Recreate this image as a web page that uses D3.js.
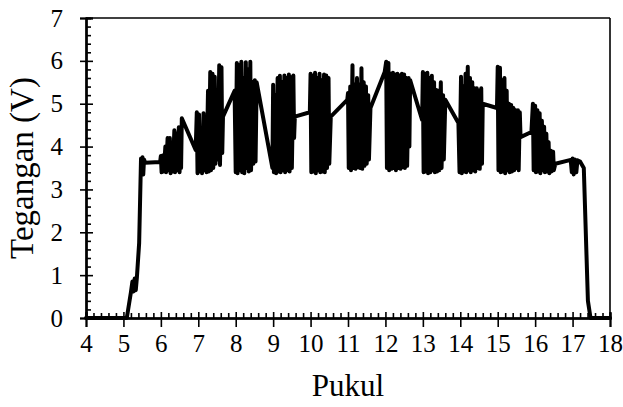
<!DOCTYPE html>
<html><head><meta charset="utf-8">
<script src="https://cdn.jsdelivr.net/npm/d3@7"></script>
<style>
body{margin:0;background:#fff;}
svg{display:block;}
</style></head>
<body>
<svg id="c" width="623" height="407"></svg>
<script>
// [pukul (hour), tegangan (V)] samples
const dawn = [[4.0,0],[5.09,0],[5.2,0.6],[5.24,0.85],[5.27,0.62],[5.3,0.92],[5.33,0.65],[5.36,0.95],[5.42,1.75],[5.47,3.72],[5.49,3.4],[5.51,3.75],[5.53,3.35],[5.55,3.7],[5.58,3.62],[5.98,3.64]];
const morning = [[6.0,3.78],[6.02,3.4],[6.06,3.8],[6.08,3.42],[6.12,4.0],[6.14,3.4],[6.18,4.2],[6.2,3.45],[6.24,4.2],[6.26,3.38],[6.3,4.1],[6.32,3.42],[6.36,4.38],[6.38,3.4],[6.42,4.3],[6.44,3.45],[6.48,4.45],[6.5,3.4],[6.53,4.42],[6.54,3.5],[6.56,4.66],[6.93,3.92],
 [6.96,4.8],[6.98,3.38],[7.02,4.75],[7.04,3.42],[7.08,4.3],[7.1,3.38],[7.14,4.78],[7.16,3.45],[7.2,4.4],[7.22,3.4],[7.26,5.3],[7.28,3.42],[7.32,5.74],[7.34,3.45],[7.38,5.7],[7.4,3.5],[7.44,5.63],[7.46,3.6],[7.5,5.2],[7.52,3.7],[7.56,5.9],[7.58,3.57],[7.62,5.85],[7.64,3.85],[7.66,4.7],[7.97,5.3],
 [8.0,3.4],[8.03,5.95],[8.05,3.38],[8.09,5.9],[8.11,3.45],[8.15,5.98],[8.17,3.4],[8.21,5.6],[8.23,3.38],[8.27,5.97],[8.29,3.5],[8.33,5.8],[8.35,3.42],[8.39,5.98],[8.41,3.45],[8.45,5.5],[8.47,3.6],[8.51,5.55],[8.53,3.65],[8.56,5.5],[8.98,3.5]];
const midday = [[9.0,5.44],[9.02,3.4],[9.06,5.2],[9.08,3.38],[9.12,5.6],[9.14,3.42],[9.18,5.65],[9.2,3.4],[9.24,5.5],[9.26,3.45],[9.3,5.66],[9.32,3.4],[9.36,5.6],[9.38,3.45],[9.42,5.68],[9.44,3.42],[9.48,5.62],[9.5,3.5],[9.54,5.66],[9.56,4.2],[9.58,4.7],[9.98,4.8],
 [10.0,5.7],[10.02,3.4],[10.06,5.65],[10.08,3.42],[10.12,5.72],[10.14,3.38],[10.18,5.6],[10.2,3.45],[10.24,5.7],[10.26,3.4],[10.3,5.55],[10.32,3.42],[10.36,5.68],[10.38,3.4],[10.42,5.66],[10.44,3.5],[10.48,5.6],[10.5,3.6],[10.54,4.7],[10.98,5.09],
 [11.0,5.25],[11.02,3.5],[11.06,5.4],[11.08,3.45],[11.12,5.9],[11.14,3.5],[11.18,5.44],[11.2,3.48],[11.24,5.6],[11.26,3.52],[11.3,5.45],[11.32,3.5],[11.36,5.83],[11.38,3.48],[11.42,5.5],[11.44,3.55],[11.48,5.4],[11.5,3.6],[11.54,5.2],[11.56,3.7],[11.6,4.9],[11.98,5.74],
 [12.02,5.98],[12.04,3.5],[12.08,5.95],[12.1,3.45],[12.14,5.7],[12.16,3.48],[12.2,5.72],[12.22,3.5],[12.26,5.68],[12.28,3.45],[12.32,5.7],[12.34,3.5],[12.38,5.66],[12.4,3.48],[12.44,5.7],[12.46,3.52],[12.5,5.68],[12.52,3.5],[12.56,5.6],[12.58,3.55],[12.62,5.6],[12.64,4.0],[12.66,5.55],[12.98,4.62]];
const afternoon = [[13.0,5.74],[13.02,3.4],[13.06,5.7],[13.08,3.42],[13.12,5.72],[13.14,3.38],[13.18,5.6],[13.2,3.4],[13.24,5.65],[13.26,3.45],[13.3,5.5],[13.32,3.4],[13.36,5.32],[13.38,3.42],[13.42,5.3],[13.44,3.45],[13.48,5.5],[13.5,3.5],[13.54,5.2],[13.56,3.7],[13.6,5.09],[13.95,4.55],
 [13.98,3.4],[14.02,5.63],[14.04,3.38],[14.08,5.4],[14.1,3.42],[14.14,5.7],[14.16,3.4],[14.2,5.86],[14.22,3.45],[14.26,5.6],[14.28,3.4],[14.32,5.5],[14.34,3.45],[14.38,5.36],[14.4,3.42],[14.44,5.36],[14.46,3.5],[14.5,5.3],[14.52,3.48],[14.56,5.36],[14.58,3.6],[14.6,5.0],[14.98,4.9],
 [15.0,5.86],[15.02,3.45],[15.06,5.84],[15.08,3.4],[15.12,5.55],[15.14,3.42],[15.18,5.6],[15.2,3.38],[15.24,5.3],[15.26,3.45],[15.3,5.0],[15.32,3.4],[15.36,4.97],[15.38,3.42],[15.42,4.9],[15.44,3.45],[15.48,4.85],[15.5,3.5],[15.54,4.85],[15.56,3.45],[15.59,4.8],[15.61,4.22],[15.9,4.34]];
const dusk = [[15.94,5.0],[15.96,3.45],[16.0,4.95],[16.02,3.4],[16.06,4.85],[16.08,3.42],[16.12,4.78],[16.14,3.38],[16.18,4.6],[16.2,3.45],[16.24,4.46],[16.26,3.4],[16.3,4.3],[16.32,3.42],[16.36,4.1],[16.38,3.38],[16.42,3.9],[16.44,3.42],[16.48,3.88],[16.5,3.45],[16.54,3.6],[16.95,3.69],
 [16.98,3.4],[17.0,3.72],[17.03,3.35],[17.06,3.7],[17.1,3.4],[17.13,3.68],[17.2,3.65],[17.3,3.5],[17.41,0.4],[17.48,0],[18.0,0]];

const xMajor = [4,5,6,7,8,9,10,11,12,13,14,15,16,17,18];
const yMajor = [0,1,2,3,4,5,6,7];
const xMinorStep = 0.2, yMinorStep = 0.2;
const xTitle = "Pukul", yTitle = "Tegangan (V)";

const FONT = '"Liberation Serif"';
const data = dawn.concat(morning, midday, afternoon, dusk);

const svg = d3.select("#c");
const m = {l:86, r:13, t:18, b:89};
const W = 623 - m.l - m.r, H = 407 - m.t - m.b;
const x = d3.scaleLinear().domain([4,18]).range([0,W]);
const y = d3.scaleLinear().domain([0,7]).range([H,0]);
const g = svg.append("g").attr("transform",`translate(${m.l},${m.t})`);

const xMinor = d3.range(4, 18.0001, xMinorStep).map(v=>+v.toFixed(2)).filter(v=>!xMajor.includes(v));
const yMinor = d3.range(0, 7.0001, yMinorStep).map(v=>+v.toFixed(2)).filter(v=>!yMajor.includes(v));

// frame (top and right)
g.append("line").attr("x1",0).attr("x2",W).attr("y1",0).attr("y2",0).attr("stroke","#000").attr("stroke-width",1.6);
g.append("line").attr("x1",W).attr("x2",W).attr("y1",0).attr("y2",H).attr("stroke","#000").attr("stroke-width",1.6);

// line
g.append("path").datum(data)
  .attr("fill","none").attr("stroke","#000").attr("stroke-width",4)
  .attr("stroke-linejoin","round").attr("stroke-linecap","round")
  .attr("d", d3.line().x(d=>x(d[0])).y(d=>y(d[1])));

function styleAxis(sel){
  sel.select(".domain").attr("stroke","#000").attr("stroke-width",2);
  sel.selectAll(".tick line").attr("stroke","#000").attr("stroke-width",1.6);
}
// x axis
const gx = g.append("g").attr("transform",`translate(0,${H})`);
gx.append("g").call(d3.axisBottom(x).tickValues(xMinor).tickSize(-5).tickFormat("")).call(styleAxis);
gx.append("g").call(d3.axisBottom(x).tickValues(xMajor).tickSize(-6).tickFormat("")).call(styleAxis);
const gxl = gx.append("g").call(d3.axisBottom(x).tickValues(xMajor).tickSize(9).tickPadding(7).tickFormat(d3.format("d"))).call(styleAxis);
gxl.selectAll("text").style("font-size","25px").style("font-family",FONT).attr("fill","#000");

// y axis
const gy = g.append("g");
gy.append("g").call(d3.axisLeft(y).tickValues(yMinor).tickSize(-5).tickFormat("")).call(styleAxis);
gy.append("g").call(d3.axisLeft(y).tickValues(yMajor).tickSize(-7).tickFormat("")).call(styleAxis);
const gyl = gy.append("g").call(d3.axisLeft(y).tickValues(yMajor).tickSize(6).tickPadding(17).tickFormat(d3.format("d"))).call(styleAxis);
gyl.selectAll("text").style("font-size","25px").style("font-family",FONT).attr("fill","#000");

svg.append("text").attr("x", m.l + W/2).attr("y", 396).attr("text-anchor","middle")
  .style("font-size","31px").style("font-family",FONT).attr("fill","#000").text(xTitle);
svg.append("text").attr("transform",`translate(33,${m.t + H/2}) rotate(-90)`).attr("text-anchor","middle")
  .style("font-size","33px").style("font-family",FONT).attr("fill","#000").text(yTitle);
</script>
</body></html>
